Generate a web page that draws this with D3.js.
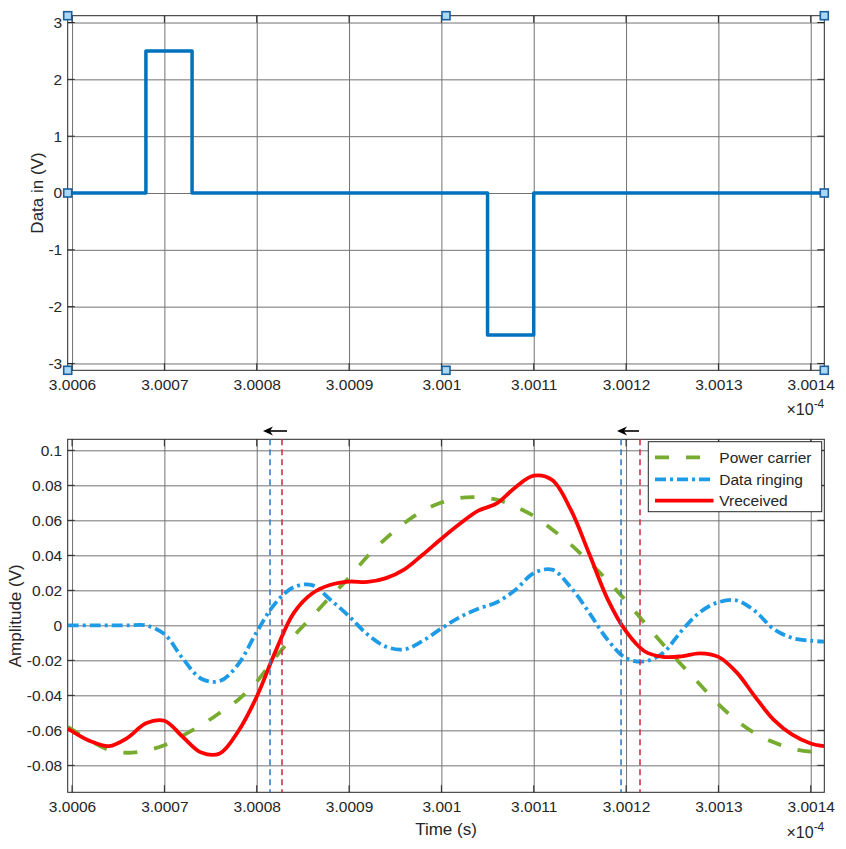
<!DOCTYPE html>
<html><head><meta charset="utf-8">
<script src="https://cdn.jsdelivr.net/npm/d3@7"></script>
<style>
body{margin:0;background:#fff}
svg{display:block}
text{font-family:"Liberation Sans",Arial,Helvetica,sans-serif;fill:#262626}
</style>
</head><body>
<svg id="c" width="846" height="849"></svg>
<script>
// ---------------- data ----------------
const xLimits = [3.0005953, 3.0014147];            // ×10^-4 s
const xTickValues = [3.0006, 3.0007, 3.0008, 3.0009, 3.001, 3.0011, 3.0012, 3.0013, 3.0014];
const xTickLabels = ["3.0006", "3.0007", "3.0008", "3.0009", "3.001", "3.0011", "3.0012", "3.0013", "3.0014"];

// top panel: Data in
const dataTime = [3.0005953, 3.00068, 3.00068, 3.00073, 3.00073, 3.00105, 3.00105, 3.0011, 3.0011, 3.0014147];
const dataIn   = [0, 0, 2.5, 2.5, 0, 0, -2.5, -2.5, 0, 0];
const topYLimits = [-3.12, 3.12];
const topYTicks = [-3, -2, -1, 0, 1, 2, 3];
const topYTickLabels = ["-3", "-2", "-1", "0", "1", "2", "3"];

// bottom panel
const time = [3.0005953, 3.0006, 3.00062, 3.00064, 3.00066, 3.00068, 3.0007, 3.00072, 3.00074, 3.00076,
  3.00078, 3.0008, 3.00082, 3.00084, 3.00086, 3.00088, 3.0009, 3.00092, 3.00094, 3.00096,
  3.00098, 3.001, 3.00102, 3.00104, 3.00106, 3.00108, 3.0011, 3.00112, 3.00114, 3.00116,
  3.00118, 3.0012, 3.00122, 3.00124, 3.00126, 3.00128, 3.0013, 3.00132, 3.00134, 3.00136,
  3.00138, 3.0014, 3.0014147];
const powerCarrier = [-0.0580, -0.0595, -0.0660, -0.0712, -0.0728, -0.0715, -0.0685, -0.0630, -0.0570, -0.0500,
  -0.0425, -0.0322, -0.0185, -0.0062, 0.0050, 0.0165, 0.0272, 0.0395, 0.0497, 0.0585,
  0.0655, 0.0702, 0.0728, 0.0732, 0.0718, 0.0678, 0.0625, 0.0548, 0.0462, 0.0362,
  0.0255, 0.0140, 0.0015, -0.0108, -0.0225, -0.0338, -0.0450, -0.0545, -0.0618, -0.0668,
  -0.0705, -0.0722, -0.0725];
const dataRinging = [0, 0, 0, 0, 0, 0, -0.0050, -0.0190, -0.0305, -0.0318,
  -0.0222, -0.0038, 0.0125, 0.0218, 0.0230, 0.0145, 0.0052, -0.0052, -0.0122, -0.0137,
  -0.0088, -0.0018, 0.0047, 0.0095, 0.0132, 0.0202, 0.0298, 0.0318, 0.0218, 0.0073,
  -0.0082, -0.0188, -0.0206, -0.0158, -0.0032, 0.0075, 0.0132, 0.0142, 0.0080, -0.0022,
  -0.0072, -0.0088, -0.0093];
const vReceived = [-0.0590, -0.0605, -0.0662, -0.0690, -0.0643, -0.0560, -0.0545, -0.0638, -0.0727, -0.0732,
  -0.0605, -0.0408, -0.0153, 0.0070, 0.0182, 0.0232, 0.0250, 0.0248, 0.0270, 0.0320,
  0.0405, 0.0495, 0.0580, 0.0655, 0.0697, 0.0788, 0.0855, 0.0830, 0.0662, 0.0410,
  0.0150, -0.0035, -0.0148, -0.0180, -0.0177, -0.0160, -0.0180, -0.0270, -0.0410, -0.0540,
  -0.0625, -0.0675, -0.0690];
const botYLimits = [-0.0954, 0.1063];
const botYTicks = [-0.08, -0.06, -0.04, -0.02, 0, 0.02, 0.04, 0.06, 0.08, 0.1];
const botYTickLabels = ["-0.08", "-0.06", "-0.04", "-0.02", "0", "0.02", "0.04", "0.06", "0.08", "0.1"];

const blueMarkers = [3.0008144, 3.0011946];
const redMarkers  = [3.0008274, 3.0012151];
const arrowFrom = [3.0008328, 3.001214];
const arrowTo   = [3.0008068, 3.0011902];

const seriesNames = ["Power carrier", "Data ringing", "Vreceived"];

// ---------------- layout ----------------
const svg = d3.select("#c");
const L = 67.7, R = 824.3;
const T1 = 15.7, B1 = 370.3;
const T2 = 439.3, B2 = 792.3;
const FS = 15.5;

const x1 = d3.scaleLinear().domain(xLimits).range([L, R]);
const y1 = d3.scaleLinear().domain(topYLimits).range([B1, T1]);
const x2 = d3.scaleLinear().domain(xLimits).range([L, R]);
const y2 = d3.scaleLinear().domain(botYLimits).range([B2, T2]);

const gridColor = "#727272";
const axColor = "#262626";

function drawAxes(x, y, top, bottom, yTicks, yLabels) {
  const g = svg.append("g");
  const h = bottom - top, w = R - L;
  const gx = g.append("g").attr("transform", `translate(0,${bottom})`)
    .call(d3.axisBottom(x).tickValues(xTickValues).tickFormat((d, i) => xTickLabels[i])
      .tickSizeInner(-h).tickSizeOuter(0).tickPadding(8.7));
  const gy = g.append("g").attr("transform", `translate(${L},0)`)
    .call(d3.axisLeft(y).tickValues(yTicks).tickFormat((d, i) => yLabels[i])
      .tickSizeInner(-w).tickSizeOuter(0).tickPadding(5.5));
  [gx, gy].forEach(a => {
    a.select(".domain").remove();
    a.selectAll(".tick line").attr("stroke", gridColor).attr("stroke-width", 1);
    a.selectAll(".tick text").attr("fill", axColor).style("font-size", FS + "px")
      .style("font-family", '"Liberation Sans",Arial,sans-serif');
  });
  const tl = 7;
  const tk = g.append("g").attr("stroke", axColor).attr("stroke-width", 1);
  xTickValues.forEach(t => {
    tk.append("line").attr("x1", x(t)).attr("x2", x(t)).attr("y1", bottom).attr("y2", bottom - tl);
    tk.append("line").attr("x1", x(t)).attr("x2", x(t)).attr("y1", top).attr("y2", top + tl);
  });
  yTicks.forEach(v => {
    tk.append("line").attr("x1", L).attr("x2", L + tl).attr("y1", y(v)).attr("y2", y(v));
    tk.append("line").attr("x1", R).attr("x2", R - tl).attr("y1", y(v)).attr("y2", y(v));
  });
  g.append("rect").attr("x", L).attr("y", top).attr("width", w).attr("height", h)
    .attr("fill", "none").attr("stroke", axColor).attr("stroke-width", 1);
  return g;
}

function expLabel(yBase) {
  const t = svg.append("text").attr("x", R).attr("y", yBase).attr("text-anchor", "end")
    .style("font-size", "16px");
  t.append("tspan").style("font-size", "16px").text("×10");
  t.append("tspan").attr("dy", -7).style("font-size", "12px").text("-4");
}

const defs = svg.append("defs");
defs.append("clipPath").attr("id", "clip1").append("rect")
  .attr("x", L).attr("y", T1).attr("width", R - L).attr("height", B1 - T1);
defs.append("clipPath").attr("id", "clip2").append("rect")
  .attr("x", L).attr("y", T2).attr("width", R - L).attr("height", B2 - T2);

// ---------------- top panel ----------------
drawAxes(x1, y1, T1, B1, topYTicks, topYTickLabels);
svg.append("path")
  .datum(dataTime.map((t, i) => [t, dataIn[i]]))
  .attr("clip-path", "url(#clip1)")
  .attr("d", d3.line().x(d => x1(d[0])).y(d => y1(d[1])))
  .attr("fill", "none").attr("stroke", "#0072BD").attr("stroke-width", 3.5)
  .attr("stroke-linejoin", "round");

svg.append("text").attr("transform", `translate(43,${(T1 + B1) / 2}) rotate(-90)`)
  .attr("text-anchor", "middle").style("font-size", "17px").text("Data in (V)");
expLabel(415);

const hx = [L, (L + R) / 2, R], hy = [T1, (T1 + B1) / 2, B1];
const handles = [];
hx.forEach(a => hy.forEach(b => { if (!(a === hx[1] && b === hy[1])) handles.push([a, b]); }));
svg.append("g").selectAll("rect").data(handles).join("rect")
  .attr("x", d => d[0] - 4).attr("y", d => d[1] - 4).attr("width", 8).attr("height", 8)
  .attr("fill", "#aad9f7").attr("stroke", "#1b5f9f").attr("stroke-width", 1.6);

// ---------------- bottom panel ----------------
drawAxes(x2, y2, T2, B2, botYTicks, botYTickLabels);

const styles = [
  {vals: powerCarrier, color: "#77AC30", dash: "14,17", width: 3.8},
  {vals: dataRinging, color: "#1E9BE6", dash: "11,4,3,4", width: 3.8},
  {vals: vReceived, color: "#FF0000", dash: null, width: 3.8}
];
const lineGen = d3.line().x(d => x2(d[0])).y(d => y2(d[1])).curve(d3.curveCatmullRom.alpha(0.5));
const pg = svg.append("g").attr("clip-path", "url(#clip2)");
styles.forEach(s => {
  pg.append("path").datum(time.map((t, i) => [t, s.vals[i]]))
    .attr("d", lineGen).attr("fill", "none").attr("stroke", s.color)
    .attr("stroke-width", s.width).attr("stroke-dasharray", s.dash)
    .attr("stroke-linejoin", "round");
});

blueMarkers.forEach(t => {
  svg.append("line").attr("x1", x2(t)).attr("x2", x2(t)).attr("y1", T2).attr("y2", B2)
    .attr("stroke", "#3a7dc2").attr("stroke-width", 1.6).attr("stroke-dasharray", "6,4");
});
redMarkers.forEach(t => {
  svg.append("line").attr("x1", x2(t)).attr("x2", x2(t)).attr("y1", T2).attr("y2", B2)
    .attr("stroke", "#d5304a").attr("stroke-width", 1.6).attr("stroke-dasharray", "6,4");
});

const arrowY = 431;
arrowFrom.forEach((f, i) => {
  const xa = x2(f), xb = x2(arrowTo[i]);
  svg.append("line").attr("x1", xa).attr("x2", xb + 6).attr("y1", arrowY).attr("y2", arrowY)
    .attr("stroke", "#000").attr("stroke-width", 1.6);
  svg.append("path").attr("d", `M${xb},${arrowY} L${xb + 10},${arrowY - 4.5} L${xb + 7},${arrowY} L${xb + 10},${arrowY + 4.5} Z`)
    .attr("fill", "#000");
});

svg.append("text").attr("transform", `translate(20.5,${(T2 + B2) / 2}) rotate(-90)`)
  .attr("text-anchor", "middle").style("font-size", "17px").text("Amplitude (V)");
svg.append("text").attr("x", (L + R) / 2).attr("y", 835).attr("text-anchor", "middle")
  .style("font-size", "17px").text("Time (s)");
expLabel(838);

const lg = svg.append("g");
lg.append("rect").attr("x", 648.3).attr("y", 441.7).attr("width", 173.4).attr("height", 70)
  .attr("fill", "#fff").attr("stroke", axColor).attr("stroke-width", 1);
const rowsY = [457.3, 479.3, 500.7];
styles.forEach((s, i) => {
  lg.append("line").attr("x1", 655).attr("x2", 713.5).attr("y1", rowsY[i]).attr("y2", rowsY[i])
    .attr("stroke", s.color).attr("stroke-width", s.width).attr("stroke-dasharray", s.dash);
  lg.append("text").attr("x", 719.3).attr("y", rowsY[i]).attr("dy", "0.35em")
    .style("font-size", FS + "px").text(seriesNames[i]);
});
</script>
</body></html>
